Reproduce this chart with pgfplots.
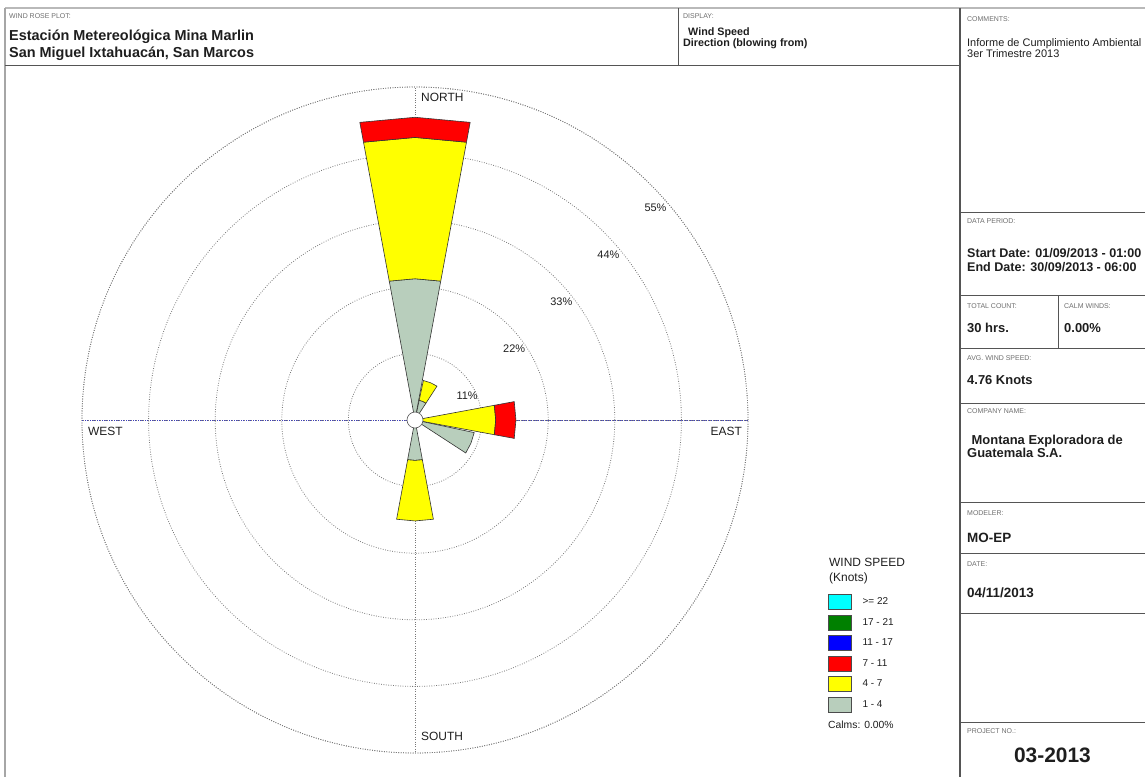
\documentclass[border=0pt]{standalone}
\usepackage{fontspec}
\setmainfont{Liberation Sans}
\usepackage{pgfplots}
\pgfplotsset{compat=1.18}
\usepgfplotslibrary{polar}

\definecolor{calmgreen}{RGB}{184,206,188}
\definecolor{wyellow}{RGB}{255,255,0}
\definecolor{wred}{RGB}{255,0,0}
\definecolor{wblue}{RGB}{0,0,255}
\definecolor{wgreen}{RGB}{0,128,0}
\definecolor{wcyan}{RGB}{0,255,255}
\definecolor{framegray}{RGB}{85,85,85}
\definecolor{labelgray}{RGB}{110,110,110}
\definecolor{ringgray}{RGB}{120,120,120}
\definecolor{txt}{RGB}{30,30,30}
\newcommand{\fs}[1]{\fontsize{#1}{#1}\selectfont}
\newcommand{\swatch}[2]{%
  \addlegendimage{legend image code/.code={\filldraw[draw=black!70,line width=0.6bp,fill=#1] (0bp,-7.5bp) rectangle (23bp,7.5bp);}}
  \addlegendentry{#2}}

\begin{document}
\begin{tikzpicture}
\useasboundingbox (0,0) rectangle (1145bp,-777bp);

% ---------- frame and text panels (pixel coordinates, y down) ----------
\begin{scope}[x=1bp,y=-1bp]
  \draw[gray!55, line width=2.2bp] (5,8) -- (1145,8);
  \draw[gray!70, line width=1.3bp] (5,8) -- (5,777);
  \draw[framegray, line width=0.9bp] (5,65) -- (960,65);
  \draw[framegray, line width=0.9bp] (678,8) -- (678,65);
  \draw[framegray, line width=1.2bp] (960,8) -- (960,777);
  \foreach \yy in {212,295,348,403,502,553,613,722}
    \draw[framegray, line width=0.9bp] (960,\yy) -- (1145,\yy);
  \draw[framegray, line width=0.9bp] (1058,295) -- (1058,348);

  % header
  \node[anchor=base west, inner sep=0, text=labelgray] at (9,18.7) {\fs{7}WIND ROSE PLOT:};
  \node[anchor=base west, inner sep=0, text=txt] at (9,40) {\fs{14.5}\bfseries Estación Metereológica Mina Marlin};
  \node[anchor=base west, inner sep=0, text=txt] at (9,57) {\fs{14.5}\bfseries San Miguel Ixtahuacán, San Marcos};
  \node[anchor=base west, inner sep=0, text=labelgray] at (683,18.7) {\fs{7}DISPLAY:};
  \node[anchor=base west, inner sep=0, text=txt] at (688,35) {\fs{10.8}\bfseries Wind Speed};
  \node[anchor=base west, inner sep=0, text=txt] at (683,46) {\fs{10.8}\bfseries Direction (blowing from)};

  % right panel
  \node[anchor=base west, inner sep=0, text=labelgray] at (967,21.7) {\fs{7}COMMENTS:};
  \node[anchor=base west, inner sep=0, text=txt] at (967,46) {\fs{11}Informe de Cumplimiento Ambiental};
  \node[anchor=base west, inner sep=0, text=txt] at (967,57) {\fs{11}3er Trimestre 2013};
  \node[anchor=base west, inner sep=0, text=labelgray] at (967,223) {\fs{7}DATA PERIOD:};
  \node[anchor=base west, inner sep=0, text=txt] at (967,257.5) {\fs{12.6}\bfseries Start Date: 01/09/2013 - 01:00};
  \node[anchor=base west, inner sep=0, text=txt] at (967,271.5) {\fs{12.6}\bfseries End Date: 30/09/2013 - 06:00};
  \node[anchor=base west, inner sep=0, text=labelgray] at (967,308) {\fs{7}TOTAL COUNT:};
  \node[anchor=base west, inner sep=0, text=labelgray] at (1064,308) {\fs{7}CALM WINDS:};
  \node[anchor=base west, inner sep=0, text=txt] at (967,332.7) {\fs{13}\bfseries 30 hrs.};
  \node[anchor=base west, inner sep=0, text=txt] at (1064,332.7) {\fs{13}\bfseries 0.00\%};
  \node[anchor=base west, inner sep=0, text=labelgray] at (967,360) {\fs{7}AVG. WIND SPEED:};
  \node[anchor=base west, inner sep=0, text=txt] at (967,384.7) {\fs{13}\bfseries 4.76 Knots};
  \node[anchor=base west, inner sep=0, text=labelgray] at (967,413) {\fs{7}COMPANY NAME:};
  \node[anchor=base west, inner sep=0, text=txt] at (971.5,444.7) {\fs{13}\bfseries Montana Exploradora de};
  \node[anchor=base west, inner sep=0, text=txt] at (967,457.7) {\fs{13}\bfseries Guatemala S.A.};
  \node[anchor=base west, inner sep=0, text=labelgray] at (967,515) {\fs{7}MODELER:};
  \node[anchor=base west, inner sep=0, text=txt] at (967,542) {\fs{13.5}\bfseries MO-EP};
  \node[anchor=base west, inner sep=0, text=labelgray] at (967,566) {\fs{7}DATE:};
  \node[anchor=base west, inner sep=0, text=txt] at (967,597) {\fs{13.5}\bfseries 04/11/2013};
  \node[anchor=base west, inner sep=0, text=labelgray] at (967,733) {\fs{7}PROJECT NO.:};
  \node[anchor=base, inner sep=0, text=txt] at (1052.5,762.5) {\fs{21}\bfseries 03-2013};

  % legend heading and calms
  \node[anchor=base west, inner sep=0, text=txt] at (829,566.5) {\fs{12}WIND SPEED};
  \node[anchor=base west, inner sep=0, text=txt] at (829,581.5) {\fs{12}(Knots)};
  \node[anchor=base west, inner sep=0, text=txt] at (828,728.8) {\fs{10.4}Calms: 0.00\%};
\end{scope}

% ---------- wind rose (angle = 90 - compass direction, radius in %) ----------
\begin{polaraxis}[
    at={(415bp,-420bp)}, anchor=center,
    scale only axis, width=666bp, height=666bp,
    xmin=0, xmax=360, ymin=0, ymax=55,
    xtick={0,90,180,270}, ytick={11,22,33,44,55},
    xticklabels={}, yticklabels={},
    major tick length=0pt,
    grid=major,
    major grid style={ringgray, dash pattern=on 0.8bp off 1.6bp, line width=0.8bp},
    axis line style={ringgray, dash pattern=on 0.8bp off 1.6bp, line width=0.8bp},
    clip=false,
    every axis plot/.append style={no markers, forget plot},
  ]
  \addplot[blue!50!gray, dash pattern=on 0.8bp off 1.6bp, line width=0.9bp] coordinates {(0,55) (180,55)};

  % NORTH: 1-4, 4-7, 7-11
  \addplot[draw=black!80, line width=0.6bp, fill=calmgreen] coordinates {(79.5,0) (79.5,23.33) (90,23.33) (100.5,23.33) (100.5,0) (79.5,0)};
  \addplot[draw=black!80, line width=0.6bp, fill=wyellow] coordinates {(79.5,23.33) (79.5,46.67) (90,46.67) (100.5,46.67) (100.5,23.33) (90,23.33) (79.5,23.33)};
  \addplot[draw=black!80, line width=0.6bp, fill=wred] coordinates {(79.5,46.67) (79.5,50.00) (90,50.00) (100.5,50.00) (100.5,46.67) (90,46.67) (79.5,46.67)};
  % NNE
  \addplot[draw=black!80, line width=0.6bp, fill=calmgreen] coordinates {(57,0) (57,3.33) (67.5,3.33) (78,3.33) (78,0) (57,0)};
  \addplot[draw=black!80, line width=0.6bp, fill=wyellow] coordinates {(57,3.33) (57,6.67) (67.5,6.67) (78,6.67) (78,3.33) (67.5,3.33) (57,3.33)};
  % EAST
  \addplot[draw=black!80, line width=0.6bp, fill=wyellow] coordinates {(349.5,0) (349.5,13.33) (360,13.33) (10.5,13.33) (10.5,0) (349.5,0)};
  \addplot[draw=black!80, line width=0.6bp, fill=wred] coordinates {(349.5,13.33) (349.5,16.67) (360,16.67) (10.5,16.67) (10.5,13.33) (360,13.33) (349.5,13.33)};
  % ESE
  \addplot[draw=black!80, line width=0.6bp, fill=calmgreen] coordinates {(327,0) (327,10.00) (337.5,10.00) (348,10.00) (348,0) (327,0)};
  % SOUTH
  \addplot[draw=black!80, line width=0.6bp, fill=calmgreen] coordinates {(259.5,0) (259.5,6.67) (270,6.67) (280.5,6.67) (280.5,0) (259.5,0)};
  \addplot[draw=black!80, line width=0.6bp, fill=wyellow] coordinates {(259.5,6.67) (259.5,16.67) (270,16.67) (280.5,16.67) (280.5,6.67) (270,6.67) (259.5,6.67)};

  % calm circle
  \addplot[only marks, mark=*, mark size=8bp, mark options={fill=white, draw=gray!70!black, line width=0.6bp}] coordinates {(0,0)};

  % ring labels
  \pgfplotsinvokeforeach{11,22,33,44,55}{
    \node[text=txt, inner sep=0, xshift=5bp, yshift=-23bp] at (axis cs:45,#1) {\fs{11}#1\%};
  }
  % compass labels
  \node[text=txt, inner sep=0, anchor=north west, xshift=6bp, yshift=-6bp] at (axis cs:90,55) {\fs{12}NORTH};
  \node[text=txt, inner sep=0, anchor=south west, xshift=6bp, yshift=12bp] at (axis cs:270,55) {\fs{12}SOUTH};
  \node[text=txt, inner sep=0, anchor=north west, xshift=6bp, yshift=-7bp] at (axis cs:180,55) {\fs{12}WEST};
  \node[text=txt, inner sep=0, anchor=north east, xshift=-6bp, yshift=-7bp] at (axis cs:0,55) {\fs{12}EAST};
\end{polaraxis}

% ---------- legend ----------
\begin{axis}[
    at={(828bp,-594bp)}, anchor=north west,
    scale only axis, width=60bp, height=60bp,
    xmin=0, xmax=1, ymin=0, ymax=1,
    hide axis,
    legend cell align=left,
    legend style={draw=none, fill=none, inner sep=0pt, outer sep=0pt,
      row sep=5bp, font=\fontsize{10}{10}\selectfont, text=txt,
      at={(0,1)}, anchor=north west,
      nodes={inner sep=0pt},
      /tikz/every odd column/.append style={column sep=11bp}},
  ]
  \swatch{wcyan}{>= 22}
  \swatch{wgreen}{17 - 21}
  \swatch{wblue}{11 - 17}
  \swatch{wred}{7 - 11}
  \swatch{wyellow}{4 - 7}
  \swatch{calmgreen}{1 - 4}
\end{axis}
\end{tikzpicture}
\end{document}
